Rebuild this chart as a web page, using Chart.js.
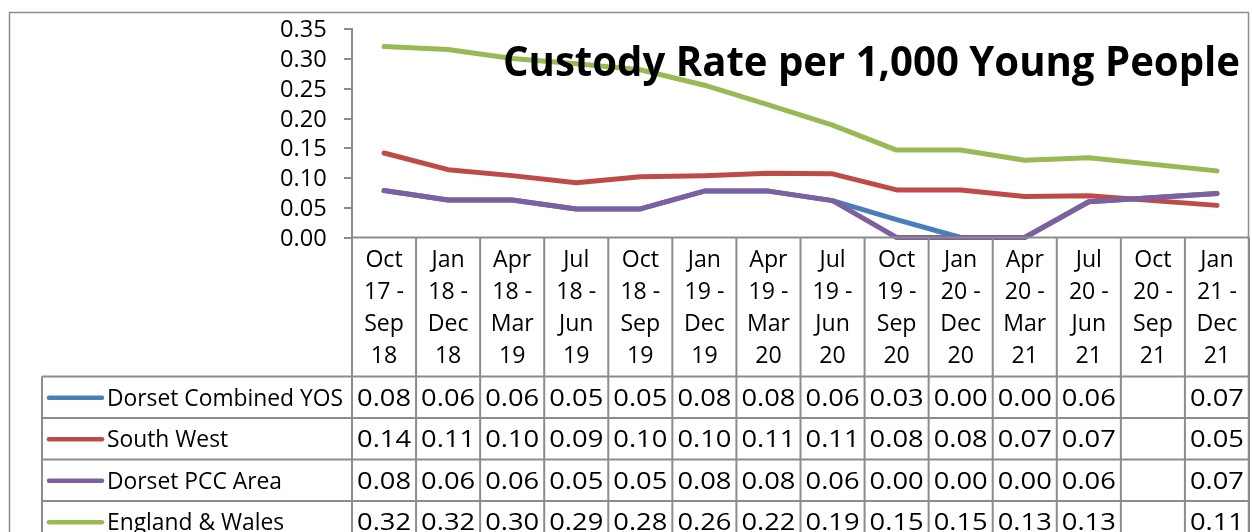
<!DOCTYPE html>
<html>
<head>
<meta charset="utf-8">
<title>Custody Rate per 1,000 Young People</title>
<script src="https://cdn.jsdelivr.net/npm/chart.js@4.4.0/dist/chart.umd.min.js"></script>
<style>
  html, body { margin: 0; padding: 0; background: #fff; }
  #wrap { width: 1252px; height: 532px; }
</style>
</head>
<body>
<div id="wrap"><canvas id="custodyChart" width="1252" height="532"></canvas></div>
<script>
// categories (each one is a 4-line label in the table header)
const categories = [
  ['Oct', '17 -', 'Sep', '18'], ['Jan', '18 -', 'Dec', '18'], ['Apr', '18 -', 'Mar', '19'],
  ['Jul', '18 -', 'Jun', '19'], ['Oct', '18 -', 'Sep', '19'], ['Jan', '19 -', 'Dec', '19'],
  ['Apr', '19 -', 'Mar', '20'], ['Jul', '19 -', 'Jun', '20'], ['Oct', '19 -', 'Sep', '20'],
  ['Jan', '20 -', 'Dec', '20'], ['Apr', '20 -', 'Mar', '21'], ['Jul', '20 -', 'Jun', '21'],
  ['Oct', '20 -', 'Sep', '21'], ['Jan', '21 -', 'Dec', '21']
];

const seriesNames = ['Dorset Combined YOS', 'South West', 'Dorset PCC Area', 'England & Wales'];

// series values (null = no data for that period)
const dorsetYos   = [0.079, 0.063, 0.063, 0.048, 0.048, 0.078, 0.078, 0.062, 0.030, 0.000, 0.000, 0.060, null, 0.074];
const southWest   = [0.142, 0.114, 0.104, 0.092, 0.102, 0.104, 0.108, 0.107, 0.080, 0.080, 0.069, 0.070, null, 0.054];
const dorsetPcc   = [0.079, 0.063, 0.063, 0.048, 0.048, 0.078, 0.078, 0.062, 0.000, 0.000, 0.000, 0.060, null, 0.074];
const englandWales = [0.321, 0.316, 0.301, 0.292, 0.282, 0.256, 0.223, 0.189, 0.147, 0.147, 0.130, 0.134, null, 0.112];

const chartTitle = 'Custody Rate per 1,000 Young People';

const COLORS = ['#4a7ebb', '#be4b48', '#7d60a0', '#98b954'];
const GRID = '#8c8c8c';
const FONT = '"Open Sans"';

// draw text squeezed/stretched horizontally so it matches the wide reference glyphs
function stretchText(ctx, text, x, y, sx, align) {
  ctx.save();
  ctx.translate(x, y);
  ctx.scale(sx, 1);
  ctx.textAlign = align;
  ctx.textBaseline = 'alphabetic';
  ctx.fillText(text, 0, 0);
  ctx.restore();
}

function fitFactor(ctx, font, sample, target) {
  ctx.font = font;
  return target / ctx.measureText(sample).width;
}

const tablePlugin = {
  id: 'dataTable',
  afterDatasetsDraw(chart) {
    const ctx = chart.ctx;
    // title sits on top of the lines
    const titleFont = `bold 42px ${FONT}`;
    const tsx = fitFactor(ctx, titleFont, chartTitle, 737);
    ctx.fillStyle = '#000';
    ctx.font = titleFont;
    stretchText(ctx, chartTitle, 503, 76, tsx, 'left');
  },
  afterDraw(chart) {
    const ctx = chart.ctx;
    const xs = chart.scales.x, ys = chart.scales.y, area = chart.chartArea;
    const colW = (area.right - area.left) / categories.length;
    const headTop = area.bottom;
    const headBottom = 376.5;
    const rowH = 41.5;
    const legendLeft = 42;
    const allSeries = [dorsetYos, southWest, dorsetPcc, englandWales];

    ctx.save();
    // outer frame
    ctx.strokeStyle = GRID;
    ctx.lineWidth = 1.5;
    ctx.beginPath();
    ctx.moveTo(9.5, 540); ctx.lineTo(9.5, 12.5); ctx.lineTo(1248.5, 12.5); ctx.lineTo(1248.5, 540);
    ctx.stroke();

    // table grid
    ctx.lineWidth = 2;
    ctx.beginPath();
    ctx.moveTo(area.left, headTop); ctx.lineTo(area.right, headTop);
    for (let r = 0; r <= allSeries.length; r++) {
      const yy = headBottom + r * rowH;
      ctx.moveTo(legendLeft, yy); ctx.lineTo(area.right, yy);
    }
    for (let i = 0; i <= categories.length; i++) {
      const bx = area.left + i * colW;
      ctx.moveTo(bx, headTop); ctx.lineTo(bx, 540);
    }
    ctx.moveTo(legendLeft, headBottom); ctx.lineTo(legendLeft, 540);
    ctx.stroke();

    // y tick labels
    const tickFont = `23px ${FONT}`;
    const ksx = fitFactor(ctx, tickFont, '0.35', 46.7);
    ctx.fillStyle = '#000';
    ys.ticks.forEach((t, i) => {
      ctx.font = tickFont;
      stretchText(ctx, t.value.toFixed(2), 326.7, ys.getPixelForTick(i) + 8, ksx, 'right');
    });

    // header category labels
    const catFont = `23px ${FONT}`;
    const csx = fitFactor(ctx, catFont, 'Oct', 37.3);
    categories.forEach((lines, i) => {
      const cx = xs.getPixelForValue(i);
      lines.forEach((ln, j) => {
        ctx.font = catFont;
        stretchText(ctx, ln, cx, 266.8 + j * 32.1, csx, 'center');
      });
    });

    // legend keys + values
    const valFont = `23px ${FONT}`;
    const vsx = fitFactor(ctx, valFont, '0.08', 54);
    const lsx = fitFactor(ctx, valFont, seriesNames[0], 236);
    allSeries.forEach((data, r) => {
      const mid = headBottom + r * rowH + rowH / 2;
      ctx.strokeStyle = COLORS[r];
      ctx.lineWidth = 4.5;
      ctx.lineCap = 'round';
      ctx.beginPath();
      ctx.moveTo(49, mid + 0.5); ctx.lineTo(102, mid + 0.5);
      ctx.stroke();
      ctx.fillStyle = '#000';
      ctx.font = valFont;
      stretchText(ctx, seriesNames[r], 107, mid + 8.3, lsx, 'left');
      data.forEach((v, i) => {
        if (v === null) return;
        ctx.font = valFont;
        stretchText(ctx, v.toFixed(2), xs.getPixelForValue(i), mid + 8.3, vsx, 'center');
      });
    });
    ctx.restore();
  }
};

function lineSet(label, data, color, order) {
  return {
    label, data, order,
    borderColor: color,
    backgroundColor: color,
    borderWidth: 5,
    borderCapStyle: 'round',
    borderJoinStyle: 'round',
    pointRadius: 0,
    tension: 0,
    spanGaps: true,
    clip: false
  };
}

new Chart(document.getElementById('custodyChart'), {
  type: 'line',
  data: {
    labels: categories,
    datasets: [
      lineSet(seriesNames[0], dorsetYos, COLORS[0], 4),
      lineSet(seriesNames[1], southWest, COLORS[1], 3),
      lineSet(seriesNames[2], dorsetPcc, COLORS[2], 2),
      lineSet(seriesNames[3], englandWales, COLORS[3], 1)
    ]
  },
  options: {
    responsive: false,
    animation: false,
    devicePixelRatio: 1,
    layout: { padding: { left: 10, right: 3, top: 29.3, bottom: 294.5 } },
    plugins: { legend: { display: false }, tooltip: { enabled: false }, title: { display: false } },
    scales: {
      x: { type: 'category', offset: true, display: false },
      y: {
        min: 0, max: 0.35,
        ticks: { stepSize: 0.05, display: false },
        grid: { drawOnChartArea: false, drawTicks: true, tickLength: 8, color: GRID, lineWidth: 2 },
        border: { display: true, color: GRID, width: 2 },
        afterFit(scale) { scale.width = 342; }
      }
    }
  },
  plugins: [tablePlugin]
});
</script>
</body>
</html>
